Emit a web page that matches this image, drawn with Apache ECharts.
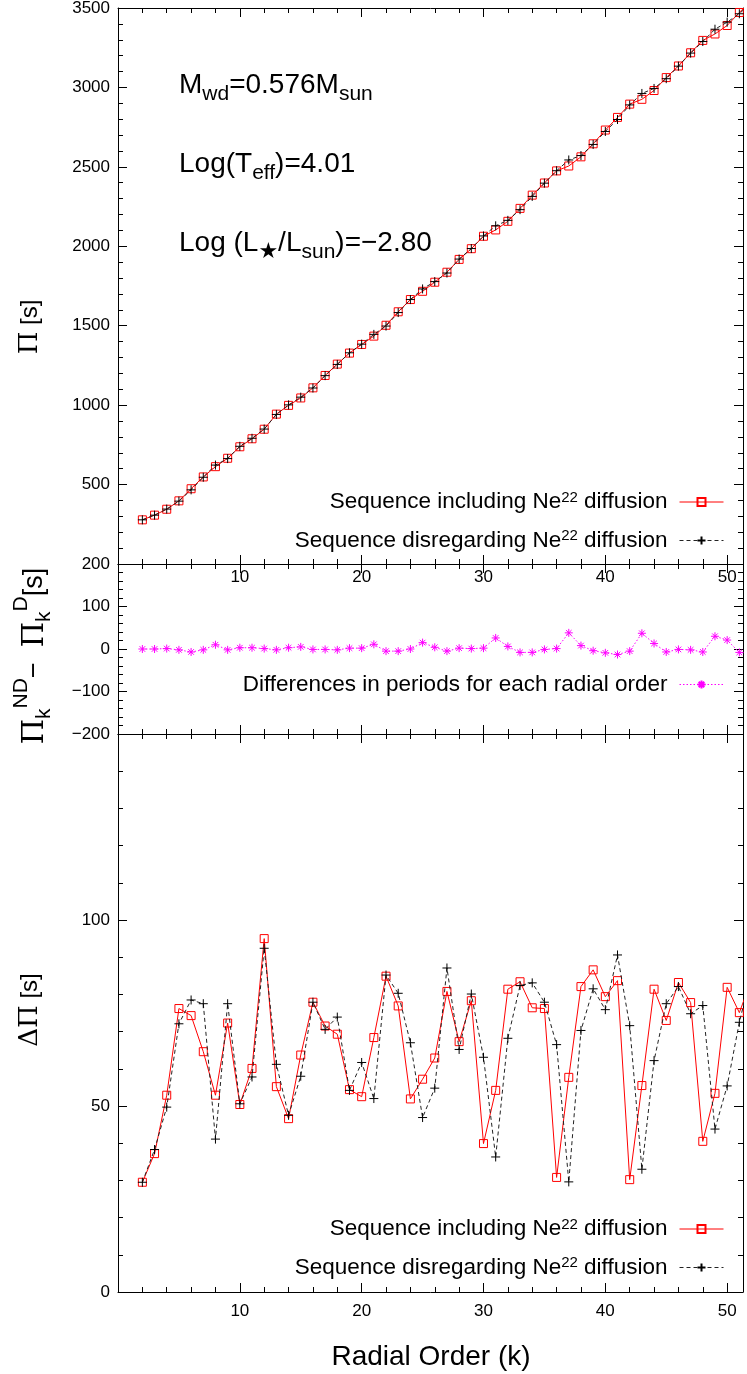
<!DOCTYPE html>
<html>
<head>
<meta charset="utf-8">
<script src="https://cdn.jsdelivr.net/npm/echarts@6/dist/echarts.min.js"></script>
<style>
  html, body { margin: 0; padding: 0; background: #fff; }
  #chart { width: 747px; height: 1374px; }
</style>
</head>
<body>
<div id="chart"></div>
<script>
// radial order k (k = 52 only feeds the clipped segment at the right border)
const radialOrder = [2, 3, 4, 5, 6, 7, 8, 9, 10, 11, 12, 13, 14, 15, 16, 17, 18, 19, 20, 21,
  22, 23, 24, 25, 26, 27, 28, 29, 30, 31, 32, 33, 34, 35, 36, 37, 38, 39, 40, 41,
  42, 43, 44, 45, 46, 47, 48, 49, 50, 51, 52];

// periods [s], sequence including Ne22 diffusion
const periodWithDiff = [278, 307.5, 344.7, 397.6, 473.8, 548.1, 612.7, 665.6, 737.9, 788.3,
  848.4, 943.4, 998.6, 1045.2, 1108.9, 1186.8, 1258.3, 1327.6, 1382.0, 1434.5,
  1502.9, 1587.8, 1664.7, 1716.6, 1773.8, 1836.7, 1917.5, 1984.8, 2063.1, 2103.0,
  2157.2, 2238.6, 2322.0, 2398.4, 2474.6, 2505.4, 2563.1, 2645.2, 2731.8, 2811.2,
  2894.9, 2925.1, 2980.6, 3062.0, 3135.0, 3218.2, 3296.0, 3336.5, 3389.9, 3471.8, 3546.9];

// periods [s], sequence disregarding Ne22 diffusion
const periodNoDiff = [278, 307.5, 345.7, 395.6, 466.8, 546.1, 622.7, 663.6, 740.9, 791.3,
  849.4, 941.4, 1001.6, 1050.2, 1107.9, 1185.8, 1256.3, 1329.6, 1384.0, 1445.5,
  1497.9, 1582.8, 1664.7, 1731.6, 1777.8, 1831.7, 1919.5, 1985.8, 2065.1, 2129.0,
  2163.2, 2230.6, 2314.0, 2397.4, 2475.6, 2543.4, 2571.1, 2641.2, 2722.8, 2798.2,
  2889.9, 2962.1, 2993.6, 3055.0, 3134.0, 3216.2, 3289.0, 3366.5, 3410.9, 3463.8, 3535.9];

// Pi_k^ND - Pi_k^D [s]
const periodDifference = [0, 0, 1, -2, -7, -2, 10, -2, 3, 3, 1, -2, 3, 5, -1, -1, -2, 2, 2, 11,
  -5, -5, 0, 15, 4, -5, 2, 1, 2, 26, 6, -8, -8, -1, 1, 38, 8, -4, -9, -13,
  -5, 37, 13, -7, -1, -2, -7, 30, 21, -8, -11];

// period spacing Delta Pi [s]
const spacingWithDiff = [29.5, 37.2, 52.9, 76.2, 74.3, 64.6, 52.9, 72.3, 50.4, 60.1,
  95.0, 55.2, 46.6, 63.7, 77.9, 71.5, 69.3, 54.4, 52.5, 68.4,
  84.9, 76.9, 51.9, 57.2, 62.9, 80.8, 67.3, 78.3, 39.9, 54.2,
  81.4, 83.4, 76.4, 76.2, 30.8, 57.7, 82.1, 86.6, 79.4, 83.7,
  30.2, 55.5, 81.4, 73.0, 83.2, 77.8, 40.5, 53.4, 81.9, 75.1, 84];

const spacingNoDiff = [29.5, 38.3, 49.7, 72.1, 78.5, 77.5, 41.1, 77.5, 50.6, 57.8,
  92.4, 61.2, 47.5, 58.0, 77.9, 70.6, 73.9, 54.2, 61.7, 52.0,
  85.2, 80.3, 67.0, 46.9, 54.8, 87.1, 65.2, 80.1, 63.1, 36.3,
  68.2, 82.4, 83.1, 77.9, 66.5, 29.6, 70.3, 81.5, 75.9, 90.6,
  71.6, 33.0, 62.2, 77.5, 82.1, 74.8, 77.0, 43.8, 55.4, 72.5, 86];

const nameD = 'Sequence including Ne22 diffusion';
const nameND = 'Sequence disregarding Ne22 diffusion';
const nameDiff = 'Differences in periods for each radial order';

const SANS = 'Liberation Sans, Arial, Helvetica, sans-serif';
const SERIF = 'DejaVu Serif, Liberation Serif, serif';
const RED = '#ff0000';
const MAGENTA = '#ff00ff';

const squareSym = 'path://M0,0L10,0L10,10L0,10Z';
const plusSym = 'path://M5,0L5,10M0,5L10,5';
const starSym = 'path://M5,0L5,10M0,5L10,5M1.5,1.5L8.5,8.5M8.5,1.5L1.5,8.5';

// grid boxes
const grids = [
  { left: 118, right: 4, top: 8, height: 556 },
  { left: 118, right: 4, top: 564, height: 170 },
  { left: 118, right: 4, top: 734, height: 558 }
];
const yRanges = [
  { min: 0, max: 3500, interval: 500, hideMin: true, hideMax: false },
  { min: -200, max: 200, interval: 100, hideMin: false, hideMax: false },
  { min: 0, max: 150, interval: 50, hideMin: false, hideMax: true }
];

const tickLine = { color: '#000', width: 1 };

// 4 x axes per grid: bottom major, bottom minor, top major, top minor
const xAxes = [];
const yAxes = [];
grids.forEach((g, gi) => {
  ['bottom', 'top'].forEach(pos => {
    let showLabel = false, inside = false, margin = 11;
    if (gi === 2 && pos === 'bottom') showLabel = true;
    if (gi === 1 && pos === 'top') { showLabel = true; inside = true; margin = 5; }
    xAxes.push({
      type: 'value', gridIndex: gi, position: pos, min: 0, max: 51.3, interval: 10,
      axisLine: { show: true, onZero: false, lineStyle: tickLine },
      axisTick: { show: true, inside: true, length: 9, lineStyle: tickLine },
      axisLabel: { show: showLabel, inside: inside, margin: margin, fontSize: 17, color: '#000',
        fontFamily: SANS, showMinLabel: false, showMaxLabel: false },
      splitLine: { show: false }
    });
    xAxes.push({
      type: 'value', gridIndex: gi, position: pos, min: 0, max: 51.3, interval: 2,
      axisLine: { show: false, onZero: false },
      axisTick: { show: true, inside: true, length: 5, lineStyle: tickLine },
      axisLabel: { show: false },
      splitLine: { show: false }
    });
  });
  const r = yRanges[gi];
  ['left', 'right'].forEach(pos => {
    yAxes.push({
      type: 'value', gridIndex: gi, position: pos, min: r.min, max: r.max, interval: r.interval,
      axisLine: { show: true, onZero: false, lineStyle: tickLine },
      axisTick: { show: true, inside: true, length: 9, lineStyle: tickLine },
      minorTick: { show: true, splitNumber: 5, length: 5, lineStyle: tickLine },
      axisLabel: { show: pos === 'left', margin: 8, fontSize: 17, color: '#000', fontFamily: SANS,
        showMinLabel: !r.hideMin, showMaxLabel: !r.hideMax,
        formatter: v => String(v).replace('-', '\u2212') },
      splitLine: { show: false }
    });
  });
});

const pairs = vals => radialOrder.map((k, i) => [k, vals[i]]);

function redSeries(xi, yi, vals) {
  return {
    name: nameD, type: 'line', xAxisIndex: xi, yAxisIndex: yi, data: pairs(vals),
    symbol: squareSym, symbolSize: 8,
    itemStyle: { color: 'rgba(255,255,255,0)', borderColor: RED, borderWidth: 1 },
    lineStyle: { color: RED, width: 1 }, z: 3
  };
}
function blackSeries(xi, yi, vals) {
  return {
    name: nameND, type: 'line', xAxisIndex: xi, yAxisIndex: yi, data: pairs(vals),
    symbol: plusSym, symbolSize: 9,
    itemStyle: { color: 'rgba(255,255,255,0)', borderColor: '#000', borderWidth: 1 },
    lineStyle: { color: '#222', width: 1, type: [4, 3] }, z: 4
  };
}

const supRich = {
  t: { fontSize: 22.5, fontFamily: SANS, color: '#000', lineHeight: 24 },
  sup: { fontSize: 15, fontFamily: SANS, color: '#000', lineHeight: 13, verticalAlign: 'top' },
  e: { fontSize: 22.5, fontFamily: SANS, color: '#000', lineHeight: 24, padding: [0, 7, 0, 0] }
};
const legendText = {};
legendText[nameD] = '{t|Sequence including Ne}{sup|22}{e| diffusion}';
legendText[nameND] = '{t|Sequence disregarding Ne}{sup|22}{e| diffusion}';
legendText[nameDiff] = '{e|Differences in periods for each radial order}';

function legendAt(names, top) {
  return {
    data: names, right: 23, top: top, orient: 'vertical', align: 'right',
    itemWidth: 44, itemHeight: 10, itemGap: 15, padding: 0, selectedMode: false,
    lineStyle: { width: 1 },
    formatter: n => legendText[n],
    textStyle: { rich: supRich }
  };
}

const annoRich = {
  b: { fontSize: 28, fontFamily: SANS, fill: '#000', lineHeight: 40 },
  s: { fontSize: 21, fontFamily: SANS, fill: '#000', lineHeight: 21, verticalAlign: 'bottom' },
  st: { fontSize: 22, fontFamily: 'DejaVu Sans, sans-serif', fill: '#000', lineHeight: 21, verticalAlign: 'bottom' }
};
const labelRich = {
  g: { fontSize: 26, fontFamily: SERIF, fill: '#000', lineHeight: 44 },
  n: { fontSize: 24, fontFamily: SANS, fill: '#000', lineHeight: 44 },
  sub: { fontSize: 18, fontFamily: SANS, fill: '#000', lineHeight: 18, verticalAlign: 'bottom', padding: [0, 0, 4, 0] },
  sup: { fontSize: 18, fontFamily: SANS, fill: '#000', lineHeight: 18, verticalAlign: 'top' }
};
const diffLabelRich = {
  g: { fontSize: 29, fontFamily: SERIF, fill: '#000', lineHeight: 48 },
  n: { fontSize: 27, fontFamily: SANS, fill: '#000', lineHeight: 48 },
  sub: { fontSize: 21, fontFamily: SANS, fill: '#000', lineHeight: 21, verticalAlign: 'bottom', padding: [0, 0, 4, 0] },
  sup: { fontSize: 21, fontFamily: SANS, fill: '#000', lineHeight: 21, verticalAlign: 'top' }
};

const chart = echarts.init(document.getElementById('chart'), null, { renderer: 'canvas' });
chart.setOption({
  animation: false,
  backgroundColor: '#fff',
  textStyle: { fontFamily: SANS },
  grid: grids.map(g => Object.assign({ outerBoundsMode: 'none', containLabel: false }, g)),
  xAxis: xAxes,
  yAxis: yAxes,
  legend: [
    legendAt([nameD, nameND], 490),
    legendAt([nameDiff], 673),
    legendAt([nameD, nameND], 1217)
  ],
  series: [
    redSeries(0, 0, periodWithDiff),
    blackSeries(0, 0, periodNoDiff),
    {
      name: nameDiff, type: 'line', xAxisIndex: 4, yAxisIndex: 2, data: pairs(periodDifference),
      symbol: starSym, symbolSize: 8,
      itemStyle: { color: 'rgba(255,255,255,0)', borderColor: MAGENTA, borderWidth: 1 },
      lineStyle: { color: MAGENTA, width: 1, type: [1.5, 2] }
    },
    redSeries(8, 4, spacingWithDiff),
    blackSeries(8, 4, spacingNoDiff)
  ],
  graphic: [
    { type: 'text', x: 179, y: 85, style: { text: '{b|M}{s|wd}{b|=0.576M}{s|sun}', rich: annoRich, verticalAlign: 'middle' } },
    { type: 'text', x: 179, y: 164, style: { text: '{b|Log(T}{s|eff}{b|)=4.01}', rich: annoRich, verticalAlign: 'middle' } },
    { type: 'text', x: 179, y: 243, style: { text: '{b|Log (L}{st|\u2605}{b|/L}{s|sun}{b|)=\u22122.80}', rich: annoRich, verticalAlign: 'middle' } },
    { type: 'text', x: 30, y: 327, rotation: Math.PI / 2,
      style: { text: '{g|\u03A0}{n| [s]}', rich: labelRich, align: 'center', verticalAlign: 'middle' } },
    { type: 'text', x: 35, y: 656, rotation: Math.PI / 2,
      style: { text: '{g|\u03A0}{sub|k}{sup|ND}{n|\u2212  }{g|\u03A0}{sub|k}{sup|D}{n|[s]}', rich: diffLabelRich, align: 'center', verticalAlign: 'middle' } },
    { type: 'text', x: 30, y: 1010, rotation: Math.PI / 2,
      style: { text: '{g|\u0394\u03A0}{n| [s]}', rich: labelRich, align: 'center', verticalAlign: 'middle' } },
    { type: 'text', x: 431, y: 1357,
      style: { text: 'Radial Order (k)', fontSize: 28, fontFamily: SANS, fill: '#000', align: 'center', verticalAlign: 'middle' } }
  ]
});
</script>
</body>
</html>
